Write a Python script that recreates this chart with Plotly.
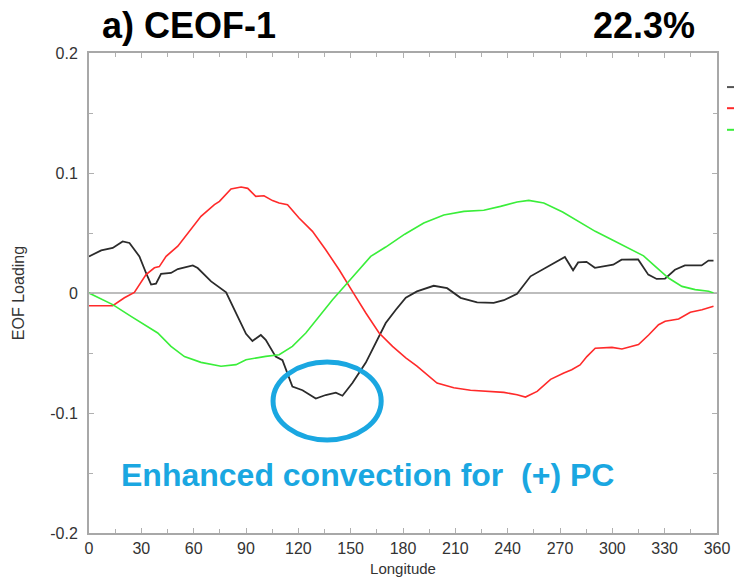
import plotly.graph_objects as go

# ---- data ----
black_lon = [0, 7, 13.6, 19.3, 23.2, 28.9, 32.7, 35.6, 38.4, 41.3, 47, 50.9, 59.5, 62.3, 70, 73.8, 78.6,
             83.4, 90, 93.7, 98.5, 101.3, 107, 110.9, 116.6, 122.4, 130, 135.7, 141.5, 145.3, 151,
             158.7, 166.3, 170.1, 175.9, 181.6, 188, 197.6, 205.3, 213, 222.5, 232, 237.8, 245.4,
             253.1, 262.6, 272.8, 277.5, 280.4, 285.2, 290, 300.5, 305.3, 314.8, 320.6, 325.4,
             330.2, 335.9, 341.6, 351.2, 355.1, 358]
black_val = [0.0305, 0.0355, 0.0375, 0.043, 0.0417, 0.0305, 0.0167, 0.007, 0.0078, 0.016, 0.0167, 0.020,
             0.023, 0.0208, 0.0097, 0.0055, 0.0005, -0.014, -0.034, -0.040, -0.035, -0.039, -0.053,
             -0.056, -0.078, -0.081, -0.088, -0.085, -0.083, -0.0856, -0.075, -0.058, -0.036, -0.025,
             -0.014, -0.004, 0.0013, 0.006, 0.004, -0.004, -0.0078, -0.0083, -0.006, -0.0006, 0.0139,
             0.022, 0.030, 0.019, 0.0255, 0.026, 0.021, 0.0236, 0.0278, 0.028, 0.0153, 0.0117, 0.012,
             0.0194, 0.023, 0.023, 0.027, 0.027]

red_lon = [0, 13.6, 20.3, 26, 32.7, 37.5, 40.3, 44.2, 50.9, 56.6, 64.2, 71.9, 74.8, 81.4, 87.2, 91,
           95.6, 100.3, 105.2, 109, 113.8, 120.4, 128.1, 135.7, 143.4, 151, 158.7, 166.3, 174, 181.6,
           188, 199.5, 209.1, 218.7, 228.2, 237.8, 245.4, 250.2, 256.9, 264.6, 272.2, 276.7, 281.5,
           285.4, 290.2, 299.8, 305.5, 315, 320.8, 326.5, 330.3, 338, 344.7, 351.4, 358]
red_val = [-0.0106, -0.0106, -0.004, 0.0005, 0.0153, 0.021, 0.022, 0.0305, 0.039, 0.050, 0.0639, 0.0736,
           0.0764, 0.0867, 0.0883, 0.0872, 0.0805, 0.081, 0.077, 0.075, 0.0736, 0.0625, 0.0514, 0.036,
           0.0194, 0.0014, -0.0167, -0.0333, -0.0445, -0.054, -0.061, -0.075, -0.079, -0.081, -0.082,
           -0.0828, -0.0848, -0.0867, -0.082, -0.072, -0.0667, -0.064, -0.060, -0.053, -0.046, -0.0453,
           -0.0467, -0.043, -0.035, -0.0264, -0.0236, -0.0217, -0.016, -0.014, -0.011]

green_lon = [0, 13.6, 24.1, 33.7, 39.4, 47, 54.7, 64.2, 75.7, 84.3, 90, 101.3, 109, 116.6, 124.3,
             131.9, 139.6, 147.2, 154.8, 161.5, 170.1, 181, 191.9, 203.4, 214.9, 226.3, 235.9, 245.4,
             252.1, 260.7, 271.5, 280.6, 290.2, 299.8, 309.4, 317.9, 324.6, 332.2, 339.9, 347.5, 355.2,
             358]
green_val = [0.0, -0.0097, -0.0195, -0.028, -0.0333, -0.0445, -0.053, -0.0578, -0.061, -0.0597, -0.0556,
             -0.0528, -0.0514, -0.0445, -0.0333, -0.0195, -0.0056, 0.0069, 0.0194, 0.0305, 0.0383, 0.049,
             0.0583, 0.065, 0.068, 0.0689, 0.0722, 0.0758, 0.0772, 0.075, 0.0675, 0.0597, 0.0514, 0.0444,
             0.0375, 0.031, 0.0222, 0.0125, 0.0055, 0.0028, 0.0014, 0.0]

x_ticks = list(range(0, 361, 30))
y_ticks = [-0.2, -0.1, 0, 0.1, 0.2]
y_ticktext = ["-0.2", "-0.1", "0", "0.1", "0.2"]

FONT = "Liberation Sans, Arial, sans-serif"
BLUE = "#1aa7e1"

fig = go.Figure()
fig.add_trace(go.Scatter(x=black_lon, y=black_val, mode="lines",
                         line=dict(color="#2b2b2b", width=1.8), showlegend=False))
fig.add_trace(go.Scatter(x=red_lon, y=red_val, mode="lines",
                         line=dict(color="#ff2a2a", width=1.6), showlegend=False))
fig.add_trace(go.Scatter(x=green_lon, y=green_val, mode="lines",
                         line=dict(color="#3aee3a", width=1.6), showlegend=False))

axis_common = dict(showline=True, linecolor="#a8a8a8", linewidth=2, mirror="ticks",
                   ticks="inside", ticklen=5, tickcolor="#b0b0b0", tickwidth=1,
                   showgrid=False, automargin=False,
                   tickfont=dict(family=FONT, size=16, color="#333333"))

fig.update_xaxes(range=[0, 360], tickvals=x_ticks,
                 minor=dict(dtick=15, ticks="inside", ticklen=4, tickcolor="#b0b0b0"),
                 zeroline=False,
                 title=dict(text="Longitude", font=dict(family=FONT, size=15, color="#333333"),
                            standoff=7),
                 **axis_common)
fig.update_yaxes(range=[-0.2, 0.2], tickvals=y_ticks, ticktext=y_ticktext,
                 minor=dict(dtick=0.05, ticks="inside", ticklen=4, tickcolor="#b0b0b0"),
                 zeroline=True, zerolinecolor="#bdbdbd", zerolinewidth=2,
                 ticklabelstandoff=6,
                 title=dict(text="EOF Loading", font=dict(family=FONT, size=16, color="#333333"),
                            standoff=22),
                 **axis_common)

# highlight ellipse
fig.add_shape(type="circle", xref="x", yref="y", x0=105.5, x1=167.5, y0=-0.1225, y1=-0.0575,
              line=dict(color=BLUE, width=5))

# legend stubs cut off at the right edge
for yy, col in [(0.929, "#555555"), (0.885, "#ff2a2a"), (0.840, "#3aee3a")]:
    fig.add_shape(type="line", xref="paper", yref="paper", x0=1.0159, x1=1.03, y0=yy, y1=yy,
                  line=dict(color=col, width=2))

fig.add_annotation(text="<b>a) CEOF-1</b>", xref="paper", yref="paper", x=0.0175, y=1.058,
                   xanchor="left", yanchor="middle", showarrow=False,
                   font=dict(family=FONT, size=36, color="#000000"))
fig.add_annotation(text="<b>22.3%</b>", xref="paper", yref="paper", x=0.968, y=1.058,
                   xanchor="right", yanchor="middle", showarrow=False,
                   font=dict(family=FONT, size=36, color="#000000"))
fig.add_annotation(text="<b>Enhanced convection for  (+) PC</b>", xref="x", yref="y",
                   x=159.5, y=-0.152, xanchor="center", yanchor="middle", showarrow=False,
                   font=dict(family=FONT, size=32, color=BLUE))

fig.update_layout(width=734, height=582, margin=dict(l=89, r=17, t=53, b=49),
                  paper_bgcolor="white", plot_bgcolor="white", showlegend=False)

fig.write_html("out.html")
